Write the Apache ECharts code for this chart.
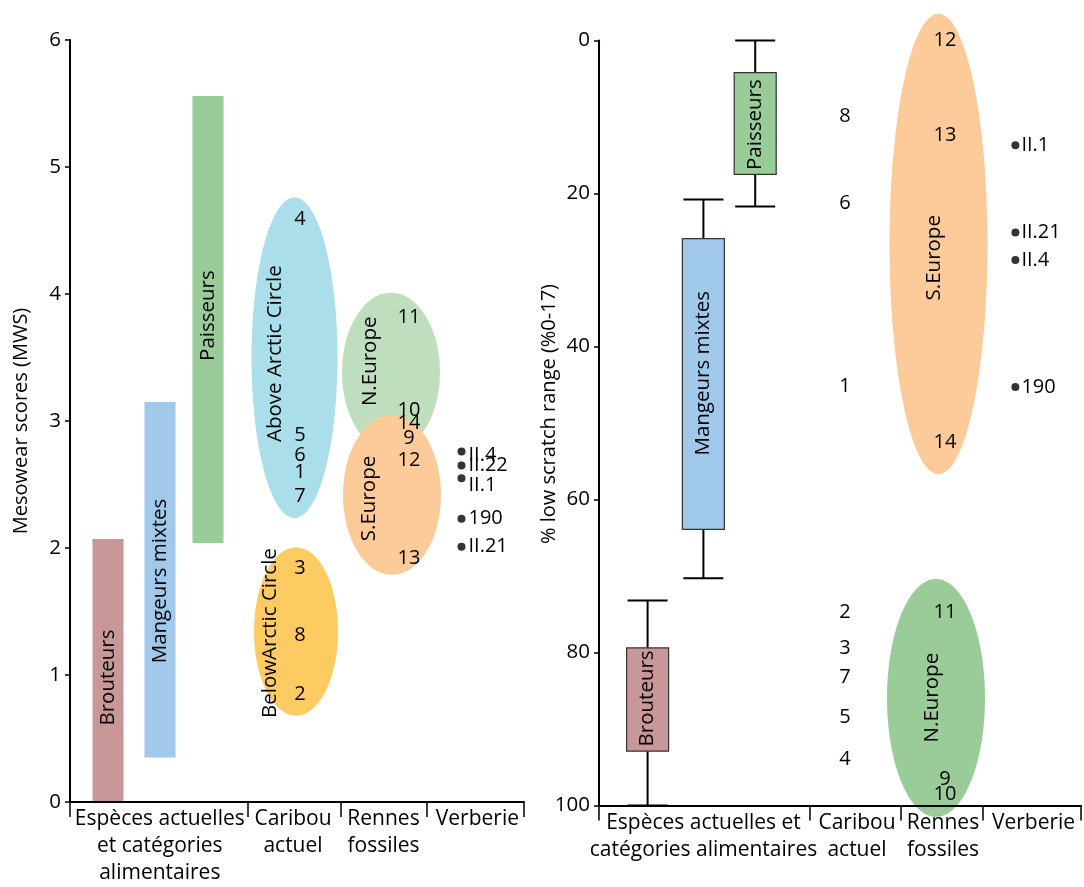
<!DOCTYPE html>
<html><head><meta charset="utf-8">
<script src="https://cdn.jsdelivr.net/npm/echarts@6/dist/echarts.min.js"></script>
<style>html,body{margin:0;padding:0;background:#fff}#c{width:1084px;height:887px}</style>
</head><body><div id="c"></div>
<script>
// ================= DATA =================
const leftCategories = ['Espèces actuelles\net catégories\nalimentaires', 'Caribou\nactuel', 'Rennes\nfossiles', 'Verberie'];
const rightCategories = ['Espèces actuelles et\ncatégories alimentaires', 'Caribou\nactuel', 'Rennes\nfossiles', 'Verberie'];
const mwsTickValues = [0, 1, 2, 3, 4, 5, 6];
const lsrTickValues = [0, 20, 40, 60, 80, 100];

// Left panel: Mesowear scores (MWS)
const dietNames = ['Brouteurs', 'Mangeurs mixtes', 'Paisseurs'];
const dietMwsMin = [0, 0.35, 2.04];
const dietMwsMax = [2.07, 3.15, 5.56];

const caribouMwsIds = ['4', '5', '6', '1', '7', '3', '8', '2'];
const caribouMws = [4.59, 2.89, 2.73, 2.60, 2.41, 1.84, 1.31, 0.85];

const renneMwsIds = ['11', '10', '14', '9', '12', '13'];
const renneMws = [3.82, 3.085, 2.98, 2.86, 2.69, 1.92];

const verberieMwsIds = ['II.4', 'II.22', 'II.1', '190', 'II.21'];
const verberieMws = [2.76, 2.65, 2.55, 2.23, 2.01];

const mwsGroupNames = ['Above Arctic Circle', 'BelowArctic Circle', 'N.Europe', 'S.Europe'];
const mwsGroupMin = [2.235, 0.68, 2.76, 1.79];
const mwsGroupMax = [4.76, 2.005, 4.01, 3.05];

// Right panel: % low scratch range (%0-17)
const boxNames = ['Brouteurs', 'Mangeurs mixtes', 'Paisseurs'];
const boxMin = [73.2, 20.8, 0];
const boxQ1 = [79.4, 25.9, 4.2];
const boxQ3 = [92.9, 63.9, 17.5];
const boxMax = [100, 70.3, 21.7];

const caribouLsrIds = ['8', '6', '1', '2', '3', '7', '5', '4'];
const caribouLsr = [9.9, 21.3, 45.2, 74.8, 79.5, 83.3, 88.5, 94.0];

const renneLsrIds = ['12', '13', '14', '11', '9', '10'];
const renneLsr = [0, 12.4, 52.5, 74.7, 96.6, 98.6];

const verberieLsrIds = ['II.1', 'II.21', 'II.4', '190'];
const verberieLsr = [13.7, 25.1, 28.7, 45.3];

const lsrGroupNames = ['S.Europe', 'N.Europe'];
const lsrGroupMin = [-3.5, 70.4];
const lsrGroupMax = [56.7, 101.5];

// ================= LAYOUT (x in axis units, label centres) =================
const L = {
  bounds: [0, 178, 271, 357, 454], labelX: [89.8, 223, 313.5, 407.4],
  dietX: [38, 90, 138], dietW: 31, dietLabelY: [0.98, 1.74, 3.83],
  dietColors: ['#c99797', '#9fc8eb', '#99cc99'],
  caribouX: 230, renneX: 339, verbX: 391.5, verbLabelDy: [-0.03, 0, -0.06, 0, 0],
  groupX: [224.5, 226, 321, 322], groupRx: [43, 42, 49, 49],
  groupColors: ['#a9deea', '#fecb62', 'rgba(153,204,153,0.64)', '#fdca99'],
  groupLabelX: [205.5, 200, 300, 299], groupLabelY: [3.53, 1.33, 3.47, 2.39]
};
const R = {
  bounds: [0, 210.6, 302, 384, 482], labelX: [104.5, 258, 344, 434.5],
  boxX: [48.6, 104.4, 156.2], boxW: 42, capW: 40, boxLabelY: [86, 43.5, 11],
  boxColors: ['#c99797', '#9fc8eb', '#99cc99'],
  caribouX: 246, renneX: 346, verbX: 416.4,
  groupX: [339.5, 337], groupRx: [49, 49],
  groupColors: ['#fdca99', '#99cc99'],
  groupLabelX: [334.8, 333], groupLabelY: [28.4, 85.9]
};

const FONT = '"Open Sans", "Noto Sans", sans-serif';
const WORD = 20.5, NUM = 20;

function xAxisDef(grid, bounds, centers, cats) {
  return {
    type: 'value', gridIndex: grid, min: bounds[0], max: bounds[bounds.length - 1], z: 10,
    axisLine: { show: true, onZero: false, lineStyle: { color: '#000', width: 2 } },
    axisTick: { show: true, customValues: bounds, length: 15, lineStyle: { color: '#000', width: 1.5 } },
    axisLabel: {
      show: true, customValues: centers, interval: 0, margin: 4, hideOverlap: false,
      color: '#000', fontSize: 21, fontFamily: FONT, lineHeight: 27,
      formatter: v => { let k = 0, d = 1e9; centers.forEach((c, i) => { if (Math.abs(c - v) < d) { d = Math.abs(c - v); k = i; } }); return cats[k]; }
    },
    splitLine: { show: false }
  };
}
function yAxisDef(grid, ticks, name, inverse, gap, pad) {
  return {
    type: 'value', gridIndex: grid, min: ticks[0], max: ticks[ticks.length - 1],
    interval: ticks[1] - ticks[0], inverse: inverse, z: 10,
    name: name, nameLocation: 'middle', nameGap: gap, nameMoveOverlap: false,
    nameTextStyle: { color: '#000', fontSize: 20, fontFamily: FONT, padding: pad },
    axisLine: { show: true, onZero: false, lineStyle: { color: '#000', width: 2 } },
    axisTick: { show: true, length: 5, lineStyle: { color: '#000', width: 1.5 } },
    axisLabel: { color: '#000', fontSize: 20.5, fontFamily: FONT, margin: 9 },
    splitLine: { show: false }
  };
}

// items: [x, y, text, rotated, fontSize, align]
function textSeries(grid, items, z) {
  return {
    type: 'custom', xAxisIndex: grid, yAxisIndex: grid, clip: false, z: z || 5, silent: true,
    data: items.map(it => [it[0], it[1]]),
    renderItem: (params, api) => {
      const it = items[params.dataIndex];
      const p = api.coord([it[0], it[1]]);
      return {
        type: 'text', x: p[0], y: p[1], rotation: it[3] ? Math.PI / 2 : 0,
        style: { text: it[2], align: it[5] || 'center', verticalAlign: 'middle', fill: '#000', fontSize: it[4] || NUM, fontFamily: FONT }
      };
    }
  };
}
function ellipseSeries(grid, xs, rxs, mins, maxs, colors, z) {
  const items = xs.map((x, i) => [x, (mins[i] + maxs[i]) / 2, rxs[i], (maxs[i] - mins[i]) / 2, colors[i]]);
  return {
    type: 'custom', xAxisIndex: grid, yAxisIndex: grid, clip: false, z: z || 2, silent: true,
    data: items.map(it => [it[0], it[1]]),
    renderItem: (params, api) => {
      const it = items[params.dataIndex];
      const c = api.coord([it[0], it[1]]);
      const s = api.size([it[2], it[3]]);
      return { type: 'ellipse', shape: { cx: c[0], cy: c[1], rx: Math.abs(s[0]), ry: Math.abs(s[1]) }, style: { fill: it[4] } };
    }
  };
}

// ---- Left panel series ----
const leftBars = {
  type: 'custom', xAxisIndex: 0, yAxisIndex: 0, z: 2, silent: true,
  data: dietNames.map((n, i) => [L.dietX[i], dietMwsMin[i], dietMwsMax[i]]),
  renderItem: (params, api) => {
    const i = params.dataIndex;
    const p0 = api.coord([api.value(0) - L.dietW / 2, api.value(1)]);
    const p1 = api.coord([api.value(0) + L.dietW / 2, api.value(2)]);
    return { type: 'rect', shape: { x: p0[0], y: p1[1], width: p1[0] - p0[0], height: p0[1] - p1[1] }, style: { fill: L.dietColors[i] } };
  }
};
const leftTexts = [];
dietNames.forEach((n, i) => leftTexts.push([L.dietX[i], L.dietLabelY[i], n, true, WORD]));
mwsGroupNames.forEach((n, i) => leftTexts.push([L.groupLabelX[i], L.groupLabelY[i], n, true, WORD]));
caribouMwsIds.forEach((n, i) => leftTexts.push([L.caribouX, caribouMws[i], n, false, NUM]));
renneMwsIds.forEach((n, i) => leftTexts.push([L.renneX, renneMws[i], n, false, NUM]));
verberieMwsIds.forEach((n, i) => leftTexts.push([L.verbX + 7, verberieMws[i] + L.verbLabelDy[i], n, false, NUM, 'left']));

// ---- Right panel series ----
const rightBoxes = {
  type: 'custom', xAxisIndex: 1, yAxisIndex: 1, z: 3, silent: true,
  data: boxNames.map((n, i) => [R.boxX[i], boxMin[i], boxQ1[i], boxQ3[i], boxMax[i]]),
  renderItem: (params, api) => {
    const i = params.dataIndex;
    const x = api.value(0);
    const c = v => api.coord([x, v]);
    const hw = api.size([R.boxW / 2, 0])[0];
    const cw = api.size([R.capW / 2, 0])[0];
    const pMin = c(api.value(1)), pQ1 = c(api.value(2)), pQ3 = c(api.value(3)), pMax = c(api.value(4));
    const ls = { stroke: '#000', lineWidth: 2 };
    return {
      type: 'group', children: [
        { type: 'line', shape: { x1: pMin[0], y1: pMin[1], x2: pQ1[0], y2: pQ1[1] }, style: ls },
        { type: 'line', shape: { x1: pQ3[0], y1: pQ3[1], x2: pMax[0], y2: pMax[1] }, style: ls },
        { type: 'line', shape: { x1: pMin[0] - cw, y1: pMin[1], x2: pMin[0] + cw, y2: pMin[1] }, style: ls },
        { type: 'line', shape: { x1: pMax[0] - cw, y1: pMax[1], x2: pMax[0] + cw, y2: pMax[1] }, style: ls },
        { type: 'rect', shape: { x: pQ1[0] - hw, y: Math.min(pQ1[1], pQ3[1]), width: 2 * hw, height: Math.abs(pQ3[1] - pQ1[1]) },
          style: { fill: R.boxColors[i], stroke: '#333', lineWidth: 1.2 } }
      ]
    };
  }
};
const rightTexts = [];
boxNames.forEach((n, i) => rightTexts.push([R.boxX[i], R.boxLabelY[i], n, true, WORD]));
lsrGroupNames.forEach((n, i) => rightTexts.push([R.groupLabelX[i], R.groupLabelY[i], n, true, WORD]));
caribouLsrIds.forEach((n, i) => rightTexts.push([R.caribouX, caribouLsr[i], n, false, NUM]));
renneLsrIds.forEach((n, i) => rightTexts.push([R.renneX, renneLsr[i], n, false, NUM]));
verberieLsrIds.forEach((n, i) => rightTexts.push([R.verbX + 6, verberieLsr[i], n, false, NUM, 'left']));

function dotSeries(grid, x, vals) {
  return {
    type: 'scatter', xAxisIndex: grid, yAxisIndex: grid, z: 6, silent: true,
    symbol: 'circle', symbolSize: 8, itemStyle: { color: '#000' },
    data: vals.map(v => [x, v])
  };
}

const chart = echarts.init(document.getElementById('c'), null, { renderer: 'canvas' });
chart.setOption({
  backgroundColor: '#fff',
  animation: false,
  grid: [
    { left: 70, top: 40, width: 454, height: 765 },
    { left: 599, top: 40.5, width: 482, height: 765 }
  ],
  xAxis: [xAxisDef(0, L.bounds, L.labelX, leftCategories), xAxisDef(1, R.bounds, R.labelX, rightCategories)],
  yAxis: [
    yAxisDef(0, mwsTickValues, 'Mesowear scores (MWS)', false, 39, [0, 0, 0, 0]),
    yAxisDef(1, lsrTickValues, '% low scratch range (%0-17)', true, 40, [0, 0, 0, 18])
  ],
  series: [
    leftBars,
    ellipseSeries(0, L.groupX, L.groupRx, mwsGroupMin, mwsGroupMax, L.groupColors, 2),
    textSeries(0, leftTexts, 5),
    dotSeries(0, L.verbX, verberieMws),
    ellipseSeries(1, R.groupX, R.groupRx, lsrGroupMin, lsrGroupMax, R.groupColors, 2),
    rightBoxes,
    textSeries(1, rightTexts, 5),
    dotSeries(1, R.verbX, verberieLsr)
  ]
});
</script></body></html>
